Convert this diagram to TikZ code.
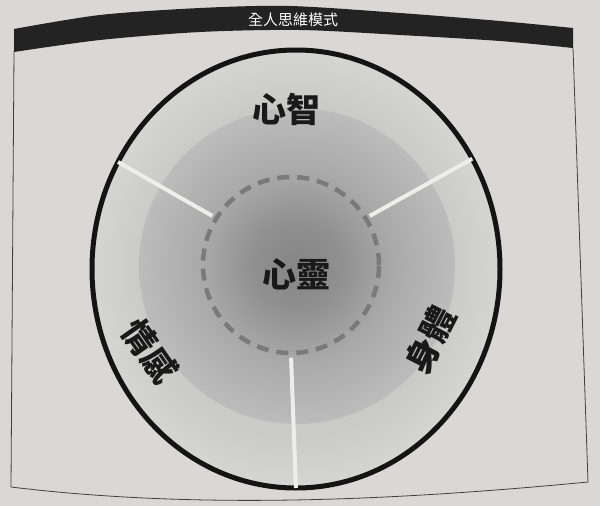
\documentclass[tikz,border=0pt]{standalone}
\usepackage{fontspec}
\newfontfamily\cjk{Noto Sans CJK TC}
\usetikzlibrary{shapes.geometric}
\definecolor{page}{HTML}{D9D8D4}
\definecolor{ringout}{HTML}{D5D5D3}
\definecolor{ringin}{HTML}{CACAC9}
\definecolor{midedge}{HTML}{BCBCBC}
\definecolor{midmid}{HTML}{A9A9A9}
\definecolor{midin}{HTML}{858585}
\definecolor{dashgray}{HTML}{7A7A7A}
\definecolor{barcol}{HTML}{232323}
\definecolor{divcol}{HTML}{EDEDEB}
\pgfdeclareradialshading{ringshade}{\pgfpointorigin}{color(0bp)=(ringin); color(19bp)=(ringin); color(25bp)=(ringout); color(50bp)=(ringout)}
\pgfdeclareradialshading{midshade}{\pgfpointorigin}{color(0bp)=(midin); color(7bp)=(midin!70!midmid); color(15bp)=(midmid); color(25bp)=(midedge); color(50bp)=(midedge)}
\tikzset{
  framestyle/.style={draw=black!75, line width=0.8pt},
  divider/.style={draw=divcol, line width=4pt, shorten <=2.5pt, shorten >=2.5pt},
  bigword/.style={font=\cjk\bfseries\fontsize{34}{34}\selectfont, text=black!90, inner sep=0pt},
  titleword/.style={font=\cjk\fontsize{15}{15}\selectfont, text=white, inner sep=0pt}
}
\begin{document}
\begin{tikzpicture}[x=1pt,y=-1pt]
\useasboundingbox (0,0) rectangle (600,506);
\fill[page] (0,0) rectangle (600,506);
% frame
\draw[framestyle] (14,51) -- (11,487) .. controls (200,510) and (400,500) .. (588,482) -- (573,48);
% title bar
\fill[barcol] plot[smooth] coordinates {(14,29) (100,15) (200,8) (290,6) (400,13) (500,21) (573,28)}
  -- plot[smooth] coordinates {(573,48) (500,41) (400,35) (300,30) (200,32) (100,40) (14,52)} -- cycle;
\node[titleword] (title) at (293,20) {全人思維模式};
% circles
\node[ellipse, minimum width=408pt, minimum height=438pt, inner sep=0pt, shade, shading=ringshade, draw=black!92, line width=5pt] (outer) at (296,269) {};
\node[circle, minimum size=316pt, inner sep=0pt, shade, shading=midshade] (mid) at (297,266) {};
\node[circle, minimum size=176pt, inner sep=0pt, draw=dashgray, line width=4.5pt, dash pattern=on 12pt off 8pt] (soul) at (291,265) {};
% dividers
\draw[divider] (soul.148) -- (outer.149);
\draw[divider] (soul.32) -- (outer.32);
\draw[divider] (soul.270) -- (outer.270);
% labels
\node[bigword] (mind) at (286,109) {心智};
\node[bigword] (spirit) at (296,274) {心靈};
\node[bigword, rotate=-55] (emotion) at (150,351) {情感};
\node[bigword, rotate=63] (body) at (430,340) {身體};
\end{tikzpicture}
\end{document}
